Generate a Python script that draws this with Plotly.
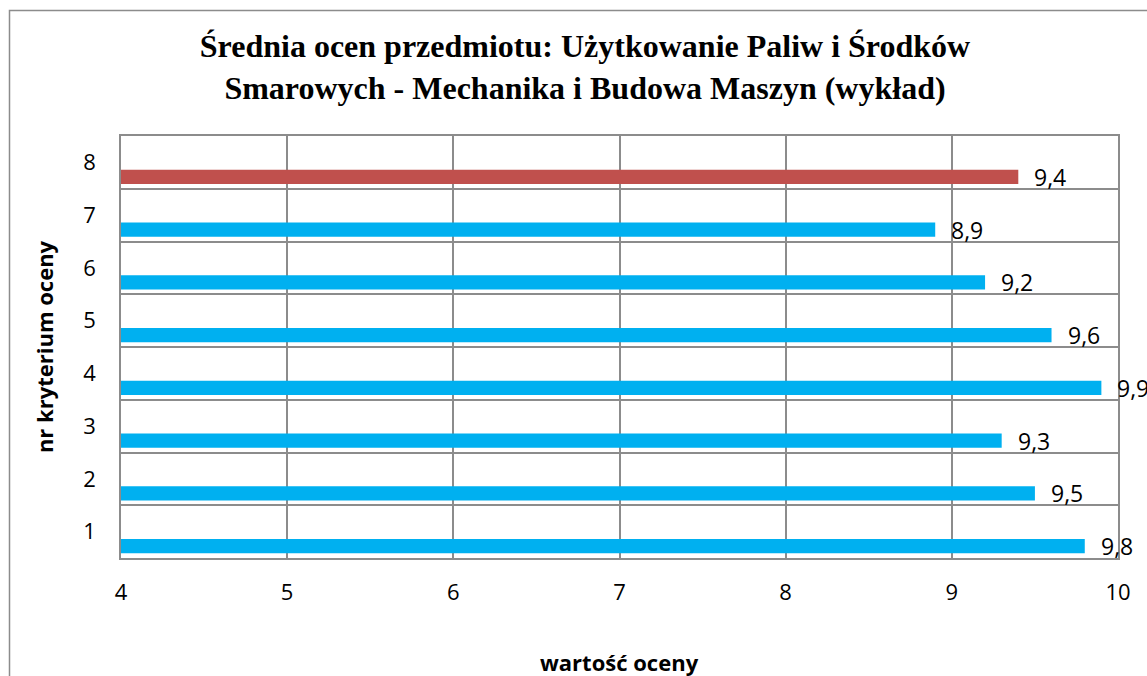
import plotly.graph_objects as go

categories = [1, 2, 3, 4, 5, 6, 7, 8]
values = [9.8, 9.5, 9.3, 9.9, 9.6, 9.2, 8.9, 9.4]
labels = ["9,8", "9,5", "9,3", "9,9", "9,6", "9,2", "8,9", "9,4"]
x_ticks = [4, 5, 6, 7, 8, 9, 10]
title_text = ("<b>Średnia ocen przedmiotu: Użytkowanie Paliw i Środków<br>"
              "Smarowych - Mechanika i Budowa Maszyn (wykład)</b>")
x_title = "<b>wartość oceny</b>"
y_title = "<b>nr kryterium oceny</b>"

BLUE = "#00B0F0"
RED = "#C0504D"
colors = [RED if c == 8 else BLUE for c in categories]

BAR_OFFSET = -0.41
BAR_WIDTH = 0.27

W, H = 1147, 676
L, R, T, B = 121, 29, 136, 118
pw, ph = W - L - R, H - T - B

fig = go.Figure()
fig.add_trace(go.Bar(
    x=values, y=categories, orientation="h",
    marker=dict(color=colors, line=dict(width=0)),
    offset=BAR_OFFSET, width=BAR_WIDTH,
    hoverinfo="skip",
))

for c, v, t in zip(categories, values, labels):
    fig.add_annotation(
        x=v, y=c + BAR_OFFSET + BAR_WIDTH / 2, text=t,
        xref="x", yref="y", showarrow=False,
        xanchor="left", yanchor="middle", xshift=14, yshift=0,
        font=dict(family="Open Sans", size=23, color="#000000"),
    )


def px_x(p):
    return (p - L) / pw


def px_y(p):
    return (H - B - p) / ph


fig.add_annotation(
    x=0.5, y=px_y(662), xref="paper", yref="paper", text=x_title,
    showarrow=False, xanchor="center", yanchor="middle",
    font=dict(family="Open Sans", size=22, color="#000000"),
)

fig.add_shape(
    type="rect", xref="paper", yref="paper",
    x0=px_x(9.5), x1=px_x(1250), y0=px_y(760), y1=px_y(10.5),
    line=dict(color="#8C8C8C", width=1.5), fillcolor="rgba(0,0,0,0)",
    layer="below",
)

fig.update_layout(
    width=W, height=H,
    margin=dict(l=L, r=R, t=T, b=B, autoexpand=False),
    paper_bgcolor="white", plot_bgcolor="white",
    showlegend=False,
    title=dict(
        text=title_text, x=585 / W, xref="container", xanchor="center",
        y=1 - 57 / H, yref="container", yanchor="middle",
        font=dict(family="Liberation Serif", size=32, color="#000000"),
    ),
    xaxis=dict(
        range=[4, 10], tickvals=x_ticks, ticktext=[str(t) for t in x_ticks],
        showgrid=True, gridcolor="#8C8C8C", gridwidth=1.5,
        showline=True, linecolor="#8C8C8C", linewidth=1.5, mirror=True,
        zeroline=False, ticks="", ticklabelstandoff=14, automargin=False,
        tickfont=dict(family="Open Sans", size=22, color="#000000"),
    ),
    yaxis=dict(
        range=[0.5, 8.5], tickvals=categories, ticktext=[str(c) for c in categories],
        showgrid=False, automargin=False,
        minor=dict(tickvals=[c - 0.5 for c in categories] + [8.5], showgrid=True,
                   gridcolor="#8C8C8C", gridwidth=1.5, ticks=""),
        showline=True, linecolor="#8C8C8C", linewidth=1.5, mirror=True,
        zeroline=False, ticks="", ticklabelstandoff=19,
        tickfont=dict(family="Open Sans", size=22, color="#000000"),
        title=dict(text=y_title, standoff=24,
                   font=dict(family="Open Sans", size=22, color="#000000")),
    ),
)

fig.write_html(
    "out.html",
    config={"displayModeBar": False},
    post_script="document.body.style.margin='0';"
                "document.documentElement.style.overflow='hidden';",
)
